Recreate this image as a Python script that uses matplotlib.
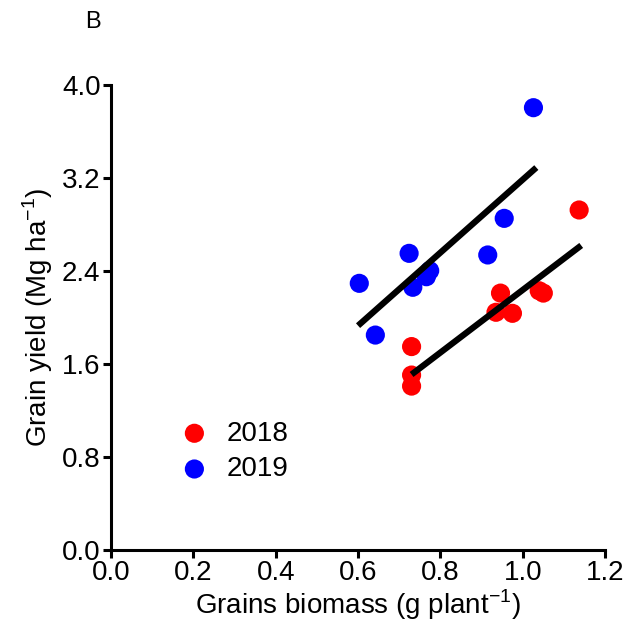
import matplotlib.pyplot as plt

plt.rcParams['font.family'] = ['Liberation Sans', 'DejaVu Sans']

# 2018 season
biomass_2018 = [0.73, 0.73, 0.73, 0.935, 0.946, 0.975, 1.04, 1.05, 1.137]
yield_2018 = [1.41, 1.505, 1.75, 2.045, 2.21, 2.036, 2.23, 2.21, 2.925]
# 2019 season
biomass_2019 = [0.603, 0.642, 0.724, 0.733, 0.766, 0.774, 0.915, 0.955, 1.026]
yield_2019 = [2.294, 1.849, 2.552, 2.26, 2.351, 2.403, 2.538, 2.853, 3.805]

# regression lines as drawn (end points)
fit_x_2018 = [0.73, 1.142]
fit_y_2018 = [1.51, 2.62]
fit_x_2019 = [0.60, 1.033]
fit_y_2019 = [1.93, 3.29]

x_ticks = [0.0, 0.2, 0.4, 0.6, 0.8, 1.0, 1.2]
y_ticks = [0.0, 0.8, 1.6, 2.4, 3.2, 4.0]

fig = plt.figure(figsize=(6.33, 6.27), dpi=100)
ax = fig.add_axes([0.1754, 0.1228, 0.7805, 0.7416])

ax.plot(fit_x_2019, fit_y_2019, color='black', lw=4.5, solid_capstyle='butt', zorder=3)
ax.plot(fit_x_2018, fit_y_2018, color='black', lw=4.5, solid_capstyle='butt', zorder=3)
ax.scatter(biomass_2018, yield_2018, s=190, color='#ff0000', edgecolors='none', label='2018', zorder=2)
ax.scatter(biomass_2019, yield_2019, s=190, color='#0000ff', edgecolors='none', label='2019', zorder=2)

ax.set_xlim(0, 1.2)
ax.set_ylim(0, 4.0)
ax.set_xticks(x_ticks)
ax.set_yticks(y_ticks)
ax.set_xticklabels([f'{v:.1f}' for v in x_ticks])
ax.set_yticklabels([f'{v:.1f}' for v in y_ticks])

for side in ['top', 'right']:
    ax.spines[side].set_visible(False)
for side in ['left', 'bottom']:
    ax.spines[side].set_linewidth(2.2)
ax.tick_params(axis='both', direction='out', length=5.5, width=2.2, labelsize=20, pad=2)

ax.set_xlabel('Grains biomass (g plant$^{\\mathregular{-1}}$)', fontsize=20, labelpad=1)
ax.set_ylabel('Grain yield (Mg ha$^{\\mathregular{-1}}$)', fontsize=20, labelpad=5)

ax.legend(frameon=False, loc='center left', bbox_to_anchor=(0.09, 0.212), fontsize=20,
          handletextpad=0.15, labelspacing=0.35, borderaxespad=0, markerscale=1.0)

fig.text(0.147, 0.965, 'B', fontsize=17, ha='center', va='center')

fig.savefig('out.png', dpi=100)
